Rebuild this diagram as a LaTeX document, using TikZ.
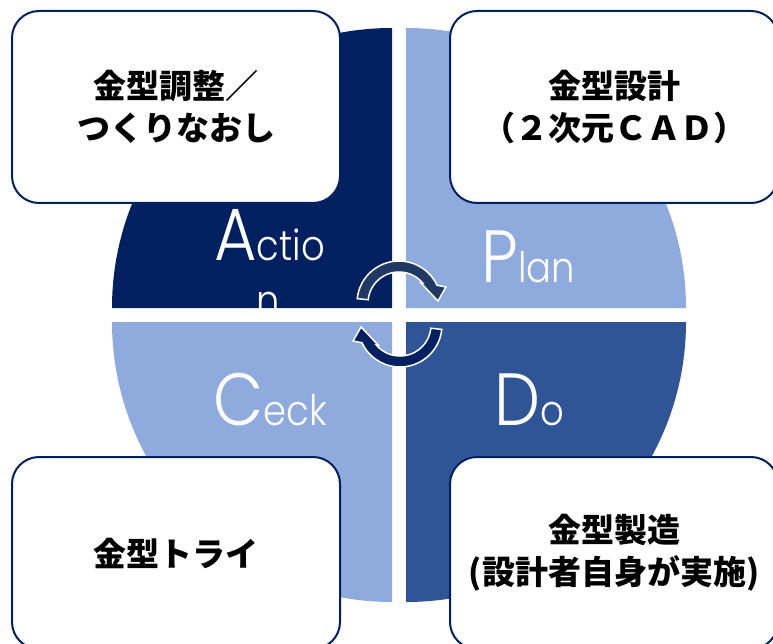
\documentclass[tikz,border=0pt]{standalone}
\usepackage{fontspec}
\newfontfamily\jpfont{Noto Sans CJK JP}
\newfontfamily\pdcafont{Poppins Light}[FakeStretch=0.88]
\definecolor{navy}{HTML}{002060}
\definecolor{lightblue}{HTML}{8FAADC}
\definecolor{midblue}{HTML}{2F5597}
\definecolor{arrowslate}{HTML}{203864}
\newcommand\pdcabig[1]{{\fontsize{74}{74}\selectfont #1}}
\newcommand\pdcasmall[1]{{\fontsize{42}{42}\selectfont #1}}
\begin{document}
\begin{tikzpicture}[x=1pt, y=1pt, yscale=-1,
  box/.style={draw=navy, line width=2, fill=white, rounded corners=27,
    minimum width=328, minimum height=192, inner sep=0, align=center,
    font=\jpfont\bfseries\fontsize{33}{42}\selectfont},
  lbl/.style={text=white, inner sep=0, anchor=base, font=\pdcafont},
  arrowshape/.style={draw=white, line width=1.5}]
\useasboundingbox (0,0) rectangle (773,644);
\clip (0,0) rectangle (773,644);
% quadrants
\fill[navy] (392,308) -- (112,308) arc[start angle=180, end angle=270, radius=280] -- cycle;
\fill[lightblue] (406,308) -- (406,28) arc[start angle=270, end angle=360, radius=280] -- cycle;
\fill[lightblue] (392,322) -- (112,322) arc[start angle=180, end angle=90, radius=280] -- cycle;
\fill[midblue] (406,322) -- (686,322) arc[start angle=0, end angle=90, radius=280] -- cycle;
% labels
\begin{scope}
\clip (392,308) -- (112,308) arc[start angle=180, end angle=270, radius=280] -- cycle;
\node[lbl] (lA) at (269.5,260) {\pdcabig{A}\pdcasmall{ctio}};
\node[lbl] (lA2) at (268.5,315) {\pdcasmall{n}};
\end{scope}
\node[lbl] (lP) at (528.5,282) {\pdcabig{P}\pdcasmall{lan}};
\node[lbl] (lC) at (270,425) {\pdcabig{C}\pdcasmall{eck}};
\node[lbl] (lD) at (529,425) {\pdcabig{D}\pdcasmall{o}};
% cycle arrows
\begin{scope}[shift={(399,303)}]
\path[arrowshape, fill=arrowslate] (-174:42) arc[start angle=-174, end angle=-25, radius=42]
  -- (-18.8:49.6) -- (-2.9:39) -- (-42.3:29.7) -- (-40:31)
  arc[start angle=-40, end angle=-174, radius=31] -- cycle;
\end{scope}
\begin{scope}[shift={(400,325)}, rotate=180]
\path[arrowshape, fill=navy] (-174:42) arc[start angle=-174, end angle=-25, radius=42]
  -- (-18.8:49.6) -- (-2.9:39) -- (-42.3:29.7) -- (-40:31)
  arc[start angle=-40, end angle=-174, radius=31] -- cycle;
\end{scope}
% boxes
\node[box] (bTL) at (176,107) {金型調整／\\つくりなおし};
\node[box] (bTR) at (614,107) {金型設計\\（２次元ＣＡＤ）};
\node[box] (bBL) at (176,553) {金型トライ};
\node[box] (bBR) at (614,553) {金型製造\\(設計者自身が実施)};
\end{tikzpicture}
\end{document}
